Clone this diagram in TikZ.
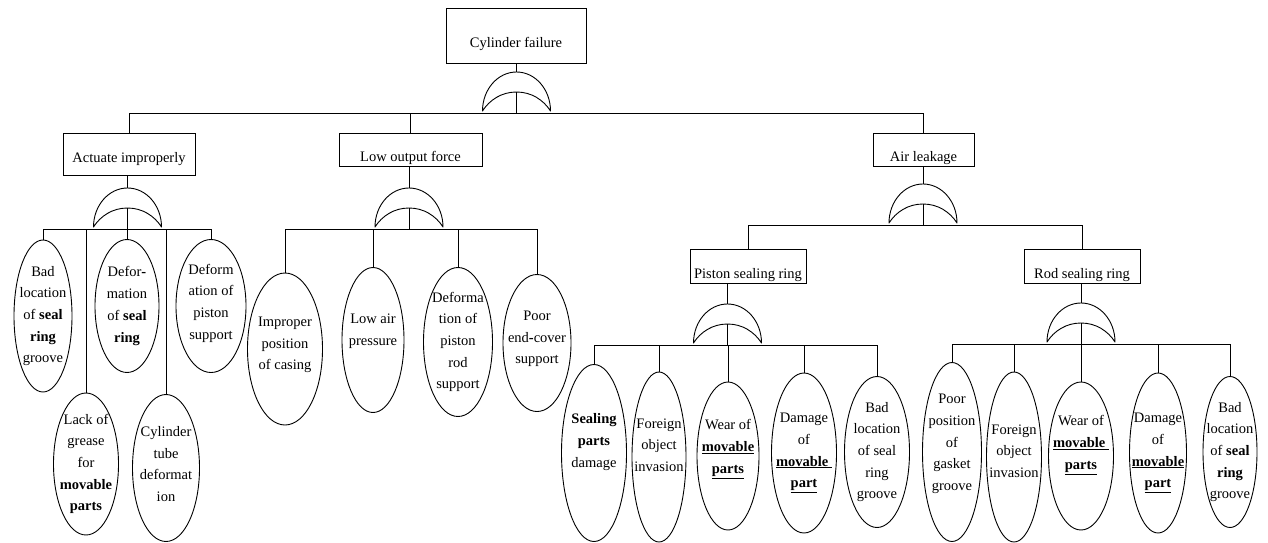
\documentclass[tikz,border=0pt]{standalone}
\usepackage{fontspec}
\setmainfont{Liberation Serif}
\usetikzlibrary{shapes.geometric}
\tikzset{
  fault tree/.style={
    x=1pt, y=-1pt, line width=0.9pt,
    font={\fontsize{14.5}{21.7}\selectfont},
    every label/.style={align=center, inner sep=0pt},
    event box/.style={rectangle, draw, inner sep=0pt, text depth=0pt},
    basic event/.style={ellipse, draw, inner sep=0pt},
    gate/.style={line join=round},
  },
}
% OR gate: name, x of centre, y of top
\newcommand{\orgate}[3]{
    \coordinate (#1) at (#2,#3);
    \coordinate (#1-out) at (#2,#3+20);
    \coordinate (#1-bus) at (#2,#3+41);
    \draw[gate] (#2-34,#3+39)
        .. controls (#2-34,#3+17.5) and (#2-18.8,#3) .. (#2,#3)
        .. controls (#2+18.8,#3) and (#2+34,#3+17.5) .. (#2+34,#3+39)
        .. controls (#2+27,#3+28) and (#2+15,#3+20) .. (#2-0,#3+20)
        .. controls (#2-15,#3+20) and (#2-27,#3+28) .. cycle;
    \draw (#1-out) -- (#1-bus);
}
% gate output to its children
\newcommand{\fan}[2]{
    \foreach \kid in {#2}
        \draw (#1-bus) -| (\kid.north);
}

\begin{document}
\begin{tikzpicture}[fault tree]
    \useasboundingbox (0,0) rectangle (1268,543);
    \foreach \n/\x/\y/\w/\h/\th/\txt in {
        top/516/35.5/140/55/25/{Cylinder failure},
        act/129/154/132/42/16/{Actuate improperly},
        low/410.5/149.5/143/33/23/{Low output force},
        air/923.5/149.5/101/33/24/{Air leakage},
        pis/748/266/116/34/24/{Piston sealing ring},
        rod/1082/266/116/34/24/{Rod sealing ring}}
        \node[event box, minimum width=\w pt, minimum height=\h pt,
            text height=\th pt] (\n) at (\x,\y) {\txt};

    \orgate{g0}{516.5}{72}
    \orgate{gA}{127.5}{188}
    \orgate{gL}{409}{188}
    \orgate{gR}{923}{184}
    \orgate{gP}{727.5}{304}
    \orgate{gD}{1081}{303}
    \foreach \g/\p in {g0/top, gA/act, gL/low, gR/air, gP/pis, gD/rod}
        \draw (\g) -- (\g |- \p.south);

    \foreach \n/\x/\y/\w/\h/\d/\txt in {
        e1/43/316/58/152/0/{Bad\\location\\of \textbf{seal}\\\textbf{ring}\\groove},
        e2/127/306/64/133/0/{Defor\textbf{-}\\mation\\of \textbf{seal}\\\textbf{ring}},
        e3/211/306/70/133/3/{Deform\\ation of\\piston\\support},
        e4/86/464/65/142/0/{Lack of\\grease\\for\\\textbf{movable}\\\textbf{parts}},
        e5/166/468/67/147/4/{Cylinder\\tube\\deformat\\ion},
        f1/285/349/75/152/4/{Improper\\position\\of casing},
        f2/373/340/62/145/9/{Low air\\pressure},
        f3/458/342/69/149/0/{Deforma\\tion of\\piston\\rod\\support},
        f4/537/343/68/137/4/{Poor\\end\textbf{-}cover\\support},
        p1/594/453/65/177/11/{\textbf{Sealing}\\\textbf{parts}\\damage},
        p2/659/457/54/170/12/{Foreign\\object\\invasion},
        p3/728/456/62/148/7/{Wear of\\\underline{\textbf{movable}}\\\underline{\textbf{parts}}},
        p4/804/453/65/160/0/{Damage\\of\\\underline{\textbf{movable}\ }\\\underline{\textbf{part}}},
        p5/877/452/65/151/0/{Bad\\location\\of seal\\ring\\groove},
        r1/952/452/59/179/8/{Poor\\position\\of\\gasket\\groove},
        r2/1014/457/55/170/6/{Foreign\\object\\invasion},
        r3/1081/456/65/148/11/{Wear of\\\underline{\textbf{movable}\ }\\\underline{\textbf{parts}}},
        r4/1158/453/57/160/0/{Damage\\of\\\underline{\textbf{movable}}\\\underline{\textbf{part}}},
        r5/1230/452/54/151/0/{Bad\\location\\of \textbf{seal}\\\textbf{ring}\\groove}}
        \node[basic event, minimum width=\w pt, minimum height=\h pt,
            label={[yshift=\d pt]center:\txt}] (\n) at (\x,\y) {};

    \fan{g0}{act,low,air}
    \fan{gA}{e1,e2,e3,e4,e5}
    \fan{gL}{f1,f2,f3,f4}
    \fan{gR}{pis,rod}
    \fan{gP}{p1,p2,p3,p4,p5}
    \fan{gD}{r1,r2,r3,r4,r5}
\end{tikzpicture}
\end{document}
